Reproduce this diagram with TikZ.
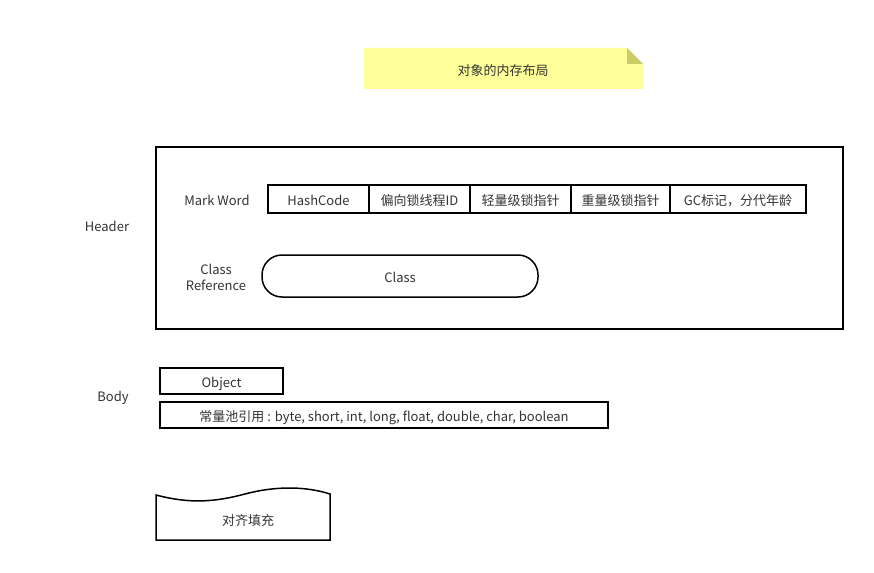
\documentclass[tikz,border=0pt]{standalone}
\usepackage{fontspec}
\setmainfont{Noto Sans CJK SC}
\usepackage{tikz}
\usetikzlibrary{positioning,calc}
\definecolor{notefill}{HTML}{FFFF99}
\definecolor{notefold}{HTML}{CCCC66}
\definecolor{txtgray}{HTML}{333333}
\tikzstyle{box}=[draw, line width=1.5pt, text=txtgray, inner sep=0pt, outer sep=0pt,
  text height=13pt, text depth=1pt, font=\fontsize{13}{16}\selectfont]
\tikzstyle{cell}=[box, anchor=west, minimum height=28, text centered]
\tikzstyle{sidetext}=[text=txtgray, align=center, font=\fontsize{13}{16}\selectfont]
\newcommand{\cell}[3]{node (m#1)[cell, minimum width=#2]{#3}}
\begin{document}
\begin{tikzpicture}[x=1pt,y=-1pt]
  \useasboundingbox (0,0) rectangle (874,572);

  % Title note
  \fill[notefill] (364,48) -- (627,48) -- (643,64) -- (643,89) -- (364,89) -- cycle;
  \fill[notefold] (627,48) -- (643,64) -- (627,64) -- cycle;
  \node (title)[sidetext] at (503,71) {对象的内存布局};

  % Header
  \node (header)[box, minimum width=687, minimum height=182, anchor=north west] at (156,147) {};
  \node (hlabel)[sidetext] at (107,226) {Header};
  \node (mwlabel)[sidetext] at (217,200) {Mark Word};

  \path (268,199) \cell{1}{101}{HashCode};
  \path (m1.east) \cell{2}{101}{偏向锁线程ID};
  \path (m2.east) \cell{3}{101}{轻量级锁指针};
  \path (m3.east) \cell{4}{99}{重量级锁指针};
  \path (m4.east) \cell{5}{136}{GC标记，分代年龄};

  \node (crlabel)[sidetext] at (216,277) {Class\\Reference};
  \node (class)[box, minimum width=276, minimum height=42, rounded corners=20] at (400,276) {Class};

  % Body
  \node (blabel)[sidetext] at (113,398) {Body};
  \node (object)[box, minimum width=123, minimum height=26, anchor=north west] at (160,368) {Object};
  \node (pool)[box, minimum width=448, minimum height=26, anchor=north west] at (160,402)
    {常量池引用 : byte, short, int, long, float, double, char, boolean};

  % Padding
  \draw[line width=1.5pt] (156,495) .. controls (190,504) and (215,502) .. (245,494)
    .. controls (275,486) and (305,486) .. (330,494) -- (330,540) -- (156,540) -- cycle;
  \node (pad)[sidetext] at (248,521) {对齐填充};

\end{tikzpicture}
\end{document}
